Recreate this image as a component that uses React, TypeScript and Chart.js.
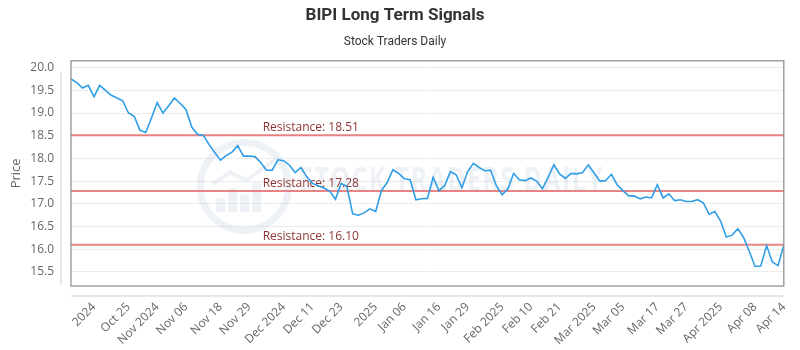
import { useEffect, useRef } from 'react';
import { Chart, registerables } from 'chart.js';

Chart.register(...registerables);

const prices = [
  19.75, 19.67, 19.55, 19.61, 19.36, 19.61, 19.50, 19.39, 19.33, 19.27,
  19.00, 18.93, 18.62, 18.57, 18.89, 19.23, 19.00, 19.16, 19.33, 19.21,
  19.08, 18.69, 18.53, 18.51, 18.31, 18.13, 17.96, 18.06, 18.14, 18.28,
  18.05, 18.05, 18.04, 17.91, 17.74, 17.74, 17.97, 17.95, 17.85, 17.69,
  17.80, 17.60, 17.45, 17.40, 17.35, 17.28, 17.10, 17.45, 17.38, 16.78,
  16.75, 16.80, 16.89, 16.83, 17.29, 17.47, 17.75, 17.67, 17.55, 17.53,
  17.09, 17.11, 17.12, 17.58, 17.29, 17.40, 17.71, 17.64, 17.35, 17.71,
  17.89, 17.80, 17.73, 17.74, 17.40, 17.20, 17.33, 17.67, 17.53, 17.51,
  17.57, 17.50, 17.33, 17.58, 17.86, 17.66, 17.56, 17.67, 17.66, 17.69,
  17.86, 17.68, 17.50, 17.51, 17.65, 17.42, 17.29, 17.18, 17.17, 17.11,
  17.15, 17.13, 17.42, 17.13, 17.22, 17.07, 17.09, 17.05, 17.05, 17.09,
  17.02, 16.77, 16.83, 16.62, 16.27, 16.31, 16.45, 16.26, 15.95, 15.62,
  15.63, 16.08, 15.72, 15.64, 16.09,
];

const tickIndices = [4, 10, 15, 20, 26, 31, 37, 42, 47, 53, 58, 64, 69, 75, 80, 85, 91, 96, 102, 107, 113, 119, 124];
const tickLabels = [
  '2024', 'Oct 25', 'Nov 2024', 'Nov 06', 'Nov 18', 'Nov 29', 'Dec 2024', 'Dec 11', 'Dec 23',
  '2025', 'Jan 06', 'Jan 16', 'Jan 29', 'Feb 2025', 'Feb 10', 'Feb 21', 'Mar 2025', 'Mar 05',
  'Mar 17', 'Mar 27', 'Apr 2025', 'Apr 08', 'Apr 14',
];
const yTickValues = [15.5, 16, 16.5, 17, 17.5, 18, 18.5, 19, 19.5, 20];
const resistanceLevels = [18.51, 17.28, 16.10];
const resistanceLabelIndex = 33;
const Y_MIN = 15.19;
const Y_MAX = 20.15;

export default function App() {
  const ref = useRef<HTMLCanvasElement>(null);

  useEffect(() => {
    document.body.style.margin = '0';
    const labels = prices.map((_, i) => {
      const k = tickIndices.indexOf(i);
      return k >= 0 ? tickLabels[k] : '';
    });

    const decor = {
      id: 'decor',
      beforeDatasetsDraw(chart: any) {
        const { ctx, chartArea: a, scales } = chart;
        const x = scales.x;
        const y = scales.y;
        ctx.save();
        const wm = 'rgba(170,190,210,0.2)';
        // watermark logo
        const cx = a.left + (a.right - a.left) * 0.243;
        const cy = (a.top + a.bottom) / 2 + 13;
        ctx.strokeStyle = wm;
        ctx.lineWidth = 7;
        ctx.beginPath();
        ctx.arc(cx, cy, 44, 0, Math.PI * 2);
        ctx.stroke();
        ctx.fillStyle = wm;
        const bars = [[-24, 14], [-12, 24], [0, 18], [12, 30]];
        bars.forEach(([dx, h]) => ctx.fillRect(cx + dx - 4, cy + 26 - h, 9, h));
        ctx.beginPath();
        ctx.moveTo(cx - 32, cy - 2);
        ctx.lineTo(cx - 14, cy - 14);
        ctx.lineTo(cx + 2, cy - 6);
        ctx.lineTo(cx + 30, cy - 26);
        ctx.lineWidth = 4;
        ctx.stroke();
        // watermark text, horizontally condensed
        const text = 'STOCK TRADERS DAILY';
        ctx.font = 'bold 34px "Open Sans"';
        (ctx as any).letterSpacing = '2px';
        const w = ctx.measureText(text).width;
        const target = 305;
        ctx.save();
        ctx.translate(cx + 55, cy - 5);
        ctx.scale(target / w, 1);
        ctx.textAlign = 'left';
        ctx.textBaseline = 'middle';
        ctx.fillStyle = wm;
        ctx.fillText(text, 0, 0);
        ctx.restore();
        (ctx as any).letterSpacing = '0px';
        // resistance lines
        resistanceLevels.forEach((lvl) => {
          const py = y.getPixelForValue(lvl);
          ctx.strokeStyle = 'rgba(228,110,110,0.85)';
          ctx.lineWidth = 2;
          ctx.beginPath();
          ctx.moveTo(a.left, py);
          ctx.lineTo(a.right, py);
          ctx.stroke();
          ctx.fillStyle = '#8e3535';
          ctx.font = '12px "Open Sans"';
          ctx.textAlign = 'left';
          ctx.textBaseline = 'bottom';
          ctx.fillText('Resistance: ' + lvl.toFixed(2), x.getPixelForValue(resistanceLabelIndex) + 2, py - 2);
        });
        ctx.restore();
      },
      afterDraw(chart: any) {
        const { ctx, chartArea: a } = chart;
        ctx.save();
        ctx.strokeStyle = '#8a8a8a';
        ctx.lineWidth = 1.2;
        ctx.strokeRect(a.left, a.top, a.right - a.left, a.bottom - a.top);
        ctx.strokeStyle = '#cfcfcf';
        ctx.lineWidth = 1;
        ctx.beginPath();
        ctx.moveTo(a.left - 10, a.top + 11);
        ctx.lineTo(a.left - 10, a.bottom - 1);
        ctx.moveTo(a.left, a.bottom + 10);
        ctx.lineTo(a.right, a.bottom + 10);
        ctx.stroke();
        ctx.restore();
      },
    };

    const chart = new Chart(ref.current as HTMLCanvasElement, {
      type: 'line',
      data: {
        labels,
        datasets: [
          {
            data: prices,
            borderColor: '#2f9ee6',
            borderWidth: 1.6,
            pointRadius: 0,
            tension: 0,
            fill: false,
          },
        ],
      },
      options: {
        animation: false,
        responsive: false,
        layout: { padding: { left: 0, right: 10, top: 0, bottom: 0 } },
        plugins: {
          legend: { display: false },
          tooltip: { enabled: false },
          title: {
            display: true,
            text: 'BIPI Long Term Signals',
            color: '#333',
            font: { family: 'Roboto', size: 17, weight: 'bold' },
            padding: { top: 6, bottom: 4 },
          },
          subtitle: {
            display: true,
            text: 'Stock Traders Daily',
            color: '#333',
            font: { family: 'Roboto', size: 12 },
            padding: { top: 4, bottom: 12 },
          },
        },
        scales: {
          x: {
            type: 'category',
            grid: { display: false },
            border: { display: false },
            ticks: {
              autoSkip: false,
              minRotation: 45,
              maxRotation: 45,
              color: '#666',
              font: { family: 'Open Sans', size: 12 },
              padding: 6,
            },
            afterBuildTicks: (s: any) => {
              s.ticks = tickIndices.map((v) => ({ value: v }));
            },
            afterFit: (s: any) => {
              s.height = 64;
            },
          },
          y: {
            min: Y_MIN,
            max: Y_MAX,
            grid: { color: '#ececec', drawTicks: false },
            border: { display: false },
            ticks: {
              color: '#666',
              font: { family: 'Open Sans', size: 12 },
              padding: 17,
              callback: (v: any) => Number(v).toFixed(1),
            },
            afterBuildTicks: (s: any) => {
              s.ticks = yTickValues.map((v) => ({ value: v }));
            },
            title: {
              display: true,
              text: 'Price',
              color: '#666',
              font: { family: 'Open Sans', size: 13 },
              padding: { top: 8, bottom: 0 },
            },
            afterFit: (s: any) => {
              s.width = 71;
            },
          },
        },
      },
      plugins: [decor],
    });
    return () => chart.destroy();
  }, []);

  return <canvas ref={ref} width={800} height={350} style={{ display: 'block' }} />;
}
